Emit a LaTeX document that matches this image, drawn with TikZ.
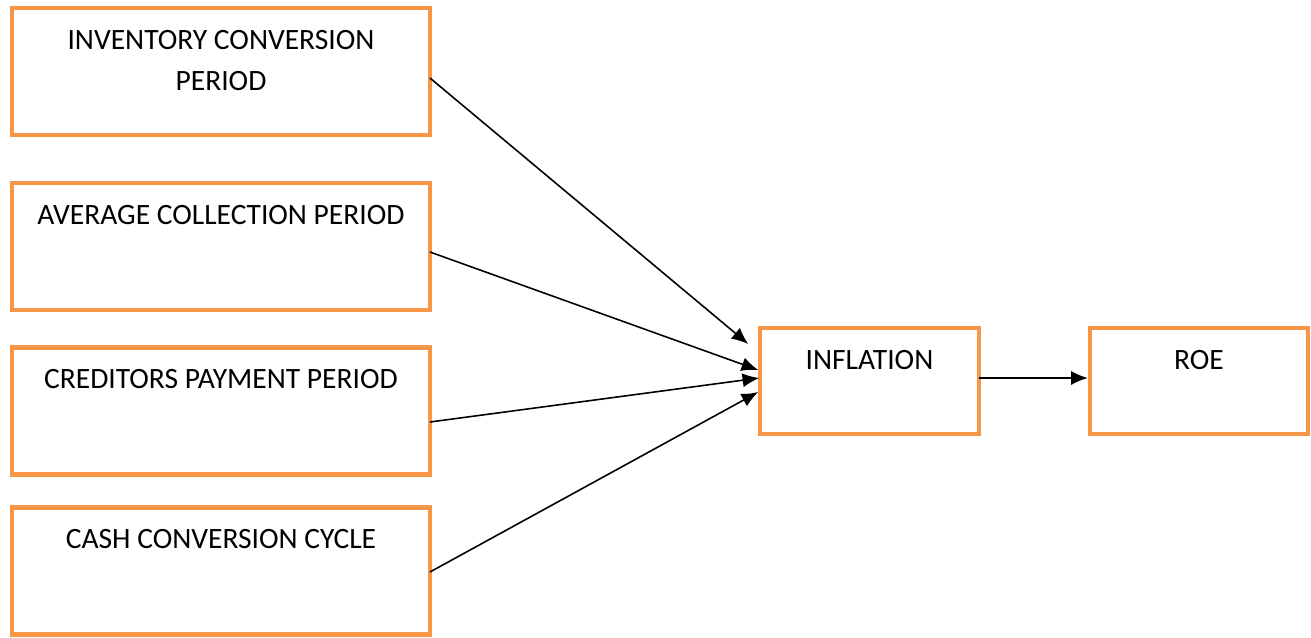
\documentclass[tikz,border=0pt]{standalone}
\usepackage{fontspec}
\setmainfont{Carlito}
\usetikzlibrary{arrows.meta,calc}
\definecolor{boxorange}{HTML}{F79646}
\begin{document}
\begin{tikzpicture}[x=0.02cm,y=-0.02cm,
    font=\fontsize{16.8}{23.4}\selectfont,
    box/.style={draw=boxorange,line width=2.5pt,rectangle,outer sep=0pt,
      minimum width=8.36cm,minimum height=2.54cm},
    mid/.style={box,minimum width=4.37cm,minimum height=2.12cm},
    lbl/.style={anchor=north,yshift=-12.3pt,inner sep=0pt,align=center},
    arr/.style={-{Latex[length=9.5pt,width=8pt]},line width=0.9pt}]
      \useasboundingbox (0,0) rectangle (1311,637);
      \draw
        (221,71.5) node[box,label={[lbl]north:{INVENTORY CONVERSION\\PERIOD}}] (icp){}
        (221,246.5) node[box,label={[lbl]north:AVERAGE COLLECTION PERIOD}] (acp){}
        (221,411) node[box,label={[lbl]north:CREDITORS PAYMENT PERIOD}] (cpp){}
        (221,571) node[box,label={[lbl]north:CASH CONVERSION CYCLE}] (ccc){}
        (869.5,381) node[mid,label={[lbl]north:INFLATION}] (infl){}
        (1199,381) node[mid,label={[lbl]north:ROE}] (roe){};
      \begin{scope}[arr]
        \draw ($(icp.east)+(0,6.5)$) to ($(infl.west)+(-12,-37)$);
        \draw ($(acp.east)+(0,5.5)$) to ($(infl.west)+(-2,-11)$);
        \draw ($(cpp.east)+(0,11)$) to ($(infl.west)+(-1,-3)$);
        \draw ($(ccc.east)+(0,1)$) to ($(infl.west)+(-2,11)$);
        \draw ($(infl.east)+(0,-3)$) to ($(roe.west)+(-2,-3)$);
      \end{scope}
    \end{tikzpicture}
\end{document}
